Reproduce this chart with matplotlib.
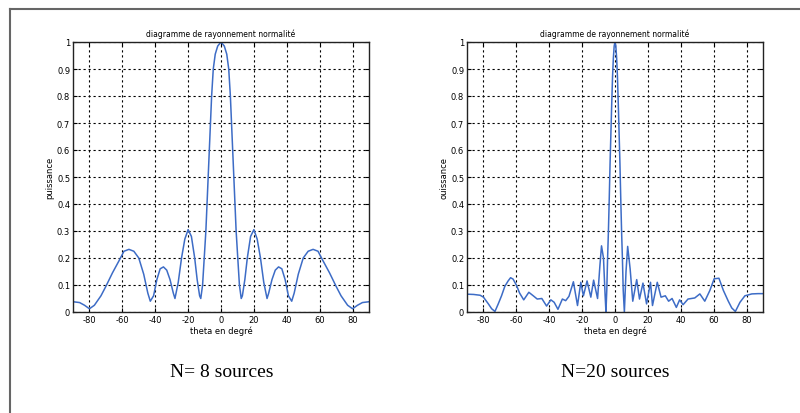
import matplotlib
matplotlib.use("Agg")
import matplotlib.pyplot as plt
from matplotlib.lines import Line2D

# ---- data ----
theta8 = [-90, -86, -83, -80, -77, -73, -70, -66, -62, -59, -56, -53, -50, -47, -44.5, -43, -41,
          -39, -37, -35, -33, -31, -29, -28, -26, -24, -22, -20, -18, -16, -14.5, -13, -12.3,
          -11.2, -10.2, -9.2, -8.5, -7.8, -7.1, -6.4, -5.7, -4.7, -3.5, -2, 0,
          2, 3.5, 4.7, 5.7, 6.4, 7.1, 7.8, 8.5, 9.2, 10.2, 11.2, 12.3,
          13, 14.5, 16, 18, 20, 22, 24, 26, 28, 29, 31, 33, 35, 37, 39,
          41, 43, 44.5, 47, 50, 53, 56, 59, 62, 66, 70, 73, 77, 80, 83, 86, 90]
power8 = [0.038, 0.035, 0.025, 0.012, 0.025, 0.06, 0.095, 0.145, 0.19, 0.225, 0.232, 0.225, 0.2, 0.14, 0.07, 0.04, 0.06,
          0.12, 0.16, 0.167, 0.155, 0.12, 0.07, 0.05, 0.11, 0.2, 0.27, 0.305, 0.28, 0.2, 0.12, 0.06, 0.05,
          0.1, 0.2, 0.3, 0.4, 0.5, 0.6, 0.7, 0.8, 0.9, 0.955, 0.985, 1.0,
          0.985, 0.955, 0.9, 0.8, 0.7, 0.6, 0.5, 0.4, 0.3, 0.2, 0.1, 0.05,
          0.06, 0.12, 0.2, 0.28, 0.305, 0.27, 0.2, 0.11, 0.05, 0.07, 0.12, 0.155, 0.167, 0.16, 0.12,
          0.06, 0.04, 0.07, 0.14, 0.2, 0.225, 0.232, 0.225, 0.19, 0.145, 0.095, 0.06, 0.025, 0.012, 0.025, 0.035, 0.038]

theta20 = [-90, -86, -82, -80, -77, -75, -73, -71, -69, -67, -65, -63.5, -62, -60, -58, -55.5,
           -52.4, -49.7, -47.3, -44.5, -41.6, -39, -37, -34.7, -32, -30, -28, -25.3, -22.8, -20.8,
           -19.2, -17, -14.7, -13, -10.6, -9.2, -8.2, -7, -6, -5.5, -5, -4.5, -4, -3.5, -3, -2.5,
           -2, -1.5, -1, -0.5, 0, 0.5, 1, 1.5, 2, 2.5, 3, 3.5, 4, 4.5, 5, 5.7,
           6.7, 7.7, 9.2, 10.8, 13.2, 14.9, 17, 19.2, 21.6, 22.8, 25.7, 28, 30.6, 32.6, 34.7,
           37.3, 39.3, 41.4, 44.4, 48.5, 51.6, 54.6, 57.7, 60.3, 63.2, 65.9, 68.9, 71, 73.2,
           76, 79, 83.2, 87, 90]
power20 = [0.066, 0.065, 0.062, 0.055, 0.03, 0.012, 0.002, 0.03, 0.06, 0.095, 0.115, 0.127, 0.122, 0.1, 0.07, 0.045,
           0.073, 0.06, 0.048, 0.05, 0.022, 0.045, 0.036, 0.01, 0.048, 0.042, 0.058, 0.112, 0.024, 0.11,
           0.06, 0.115, 0.055, 0.118, 0.05, 0.17, 0.245, 0.2, 0.06, 0.0, 0.08, 0.2, 0.3, 0.42, 0.55, 0.66,
           0.77, 0.87, 0.94, 0.985, 1.0, 0.985, 0.94, 0.87, 0.77, 0.66, 0.55, 0.42, 0.3, 0.2, 0.08, 0.0,
           0.15, 0.243, 0.16, 0.04, 0.12, 0.048, 0.107, 0.03, 0.11, 0.024, 0.11, 0.055, 0.06, 0.04, 0.05,
           0.017, 0.045, 0.027, 0.048, 0.052, 0.067, 0.04, 0.08, 0.123, 0.125, 0.08, 0.04, 0.015, 0.002,
           0.036, 0.06, 0.067, 0.068, 0.068]

xticks = [-80, -60, -40, -20, 0, 20, 40, 60, 80]
yticks = [0, 0.1, 0.2, 0.3, 0.4, 0.5, 0.6, 0.7, 0.8, 0.9, 1]
ytick_labels = ["0", "0.1", "0.2", "0.3", "0.4", "0.5", "0.6", "0.7", "0.8", "0.9", "1"]
title_txt = "diagramme de rayonnement normalité"
xlabel_txt = "theta en degré"
ylabels = ["puissance", "ouissance"]
captions = ["N= 8 sources", "N=20 sources"]

line_color = "#3d6cc6"

fig = plt.figure(figsize=(8.0, 4.14), dpi=100)
W, H = 800, 414

def px_axes(x0, x1, ytop, ybot):
    return [x0 / W, (H - ybot) / H, (x1 - x0) / W, (ybot - ytop) / H]

ax1 = fig.add_axes(px_axes(73, 369, 43, 313))
ax2 = fig.add_axes(px_axes(467, 763, 43, 313))

for ax, th, pw, yl in [(ax1, theta8, power8, ylabels[0]), (ax2, theta20, power20, ylabels[1])]:
    ax.plot(th, pw, color=line_color, lw=1.1)
    ax.set_xlim(-90, 90)
    ax.set_ylim(0, 1)
    ax.set_xticks(xticks)
    ax.set_xticklabels([str(t) for t in xticks])
    ax.set_yticks(yticks)
    ax.set_yticklabels(ytick_labels)
    ax.grid(True, color="black", linestyle=(0, (2, 2.5)), linewidth=0.8)
    ax.tick_params(direction="in", top=True, right=True, length=3, width=0.8,
                   labelsize=6, pad=2)
    for s in ax.spines.values():
        s.set_linewidth(1.0)
        s.set_color("#222222")
    ax.set_title(title_txt, fontsize=5.5, pad=4)
    ax.set_xlabel(xlabel_txt, fontsize=6, labelpad=1)
    ax.set_ylabel(yl, fontsize=6, labelpad=2)

fig.text(222 / W, 1 - 373 / H, captions[0], family="Liberation Serif", fontsize=14,
         ha="center", va="center")
fig.text(615 / W, 1 - 373 / H, captions[1], family="Liberation Serif", fontsize=14,
         ha="center", va="center")

# page frame (top and left edges)
fig.add_artist(Line2D([10 / W, 1.0], [1 - 10 / H, 1 - 10 / H], transform=fig.transFigure,
                      color="#666666", lw=1.5))
fig.add_artist(Line2D([10 / W, 10 / W], [0, 1 - 10 / H], transform=fig.transFigure,
                      color="#666666", lw=1.5))

fig.savefig("out.png", dpi=100)
